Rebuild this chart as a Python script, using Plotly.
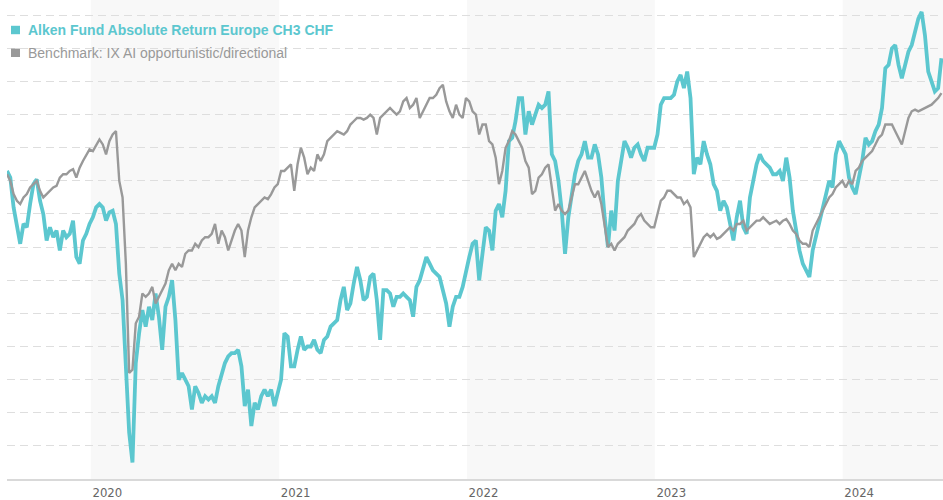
import pandas as pd
import plotly.graph_objects as go

# Values, in gridline units (each dashed gridline = 1 unit, baseline = 0)
fund_2019h2 = [9.3, 9.1, 8.2, 7.6, 7.1, 7.7, 7.6, 8.3, 8.9, 9.05, 8.4, 8.0, 7.2, 7.6, 7.3, 7.5, 6.9, 7.5, 7.3, 7.4,
               7.8, 6.7, 6.5, 7.2, 7.4, 7.7, 7.9, 8.2, 8.3, 8.2, 7.8, 8.05, 8.1, 7.7, 6.2, 5.4, 3.5]
fund_2020 = [1.4, 0.5, 3.5, 4.4, 5.1, 4.6, 5.2, 4.8, 5.6, 4.9, 3.9, 5.2, 5.5, 6.0, 4.8, 3.0, 3.2, 3.0, 2.8, 2.1,
             2.8, 2.6, 2.3, 2.5, 2.4, 2.5, 2.3, 2.8, 3.2, 3.5, 3.7, 3.8, 3.8, 3.9, 3.4, 2.2, 2.7, 1.6, 2.3, 2.1, 2.5]
fund_2021a = [2.7, 2.5, 2.7, 2.2, 2.6, 3.0, 4.4, 4.3, 3.4, 3.4, 3.9, 4.3, 3.9, 4.0, 4.0, 4.2, 3.9, 3.8, 4.2, 4.3,
              4.6, 4.7, 4.8, 5.4, 5.8, 5.1, 5.3, 5.9, 6.4, 6.0, 5.4, 5.5, 6.1, 6.2, 5.4, 4.2, 5.7, 5.7, 5.6, 5.2, 5.5]
fund_2021b = [5.5, 5.6, 5.5, 5.4, 4.9, 5.8, 6.0, 6.4, 6.7, 6.5, 6.3, 6.2, 6.1, 5.7, 5.3, 4.6, 5.2, 5.5, 5.5, 5.8,
              6.3, 6.7, 7.1, 7.2, 6.0, 6.8, 7.6, 7.5, 6.9, 8.1, 8.3, 7.9, 8.7, 10.2, 10.3, 10.8, 11.5, 11.5, 10.4, 11.1, 10.7]
fund_2022 = [11.0, 11.3, 11.2, 11.3, 11.7, 9.8, 9.6, 9.0, 8.1, 6.8, 7.9, 8.5, 9.2, 9.6, 9.8, 10.2, 9.7, 9.7, 10.1, 9.8,
             9.1, 7.9, 7.0, 8.1, 7.5, 9.0, 9.6, 10.2, 10.0, 9.7, 10.0, 10.1, 9.8, 9.6, 10.0, 10.0, 10.0, 10.4, 11.3, 11.5, 11.5]
fund_2023 = [11.5, 11.6, 12.0, 12.2, 11.8, 12.3, 11.5, 9.2, 9.7, 9.5, 10.2, 9.8, 9.5, 8.9, 8.7, 8.1, 8.4, 8.2, 7.7, 7.2,
             7.9, 8.4, 7.6, 7.4, 8.5, 9.0, 9.5, 9.8, 9.6, 9.5, 9.4, 9.2, 9.2, 9.3, 9.0, 9.7, 9.1, 8.1, 7.4, 6.9, 6.5]
fund_2024 = [6.3, 6.1, 6.9, 7.3, 7.8, 8.1, 8.5, 9.0, 8.8, 9.8, 10.2, 10.0, 9.8, 9.1, 8.8, 8.6, 9.1, 9.6, 10.3, 10.1,
             10.2, 10.5, 10.7, 11.2, 12.4, 12.5, 13.0, 13.1, 12.5, 12.1, 12.5, 12.9, 13.1, 13.5, 13.9, 14.1, 13.4, 12.3,
             12.0, 11.7, 11.8, 12.7]

bench_2019h2 = [9.2, 9.0, 8.6, 8.4, 8.3, 8.5, 8.6, 8.8, 8.9, 9.0, 8.7, 8.5, 8.6, 8.7, 8.8, 8.85, 9.1, 9.2, 9.2, 9.3,
                9.35, 9.1, 9.4, 9.6, 9.8, 9.95, 9.9, 10.1, 10.25, 10.1, 9.8, 10.2, 10.4, 10.5, 9.0, 8.5, 6.5]
bench_2020 = [3.2, 3.3, 4.7, 4.9, 5.6, 5.5, 5.6, 5.8, 5.3, 5.5, 5.7, 5.9, 6.3, 6.5, 6.3, 6.5, 6.4, 6.8, 6.9, 6.9,
              7.1, 7.0, 7.2, 7.3, 7.3, 7.4, 7.7, 7.1, 7.5, 7.3, 6.9, 7.2, 7.5, 7.7, 7.5, 6.7, 7.5, 7.9, 8.2, 8.3, 8.4]
bench_2021a = [8.5, 8.45, 8.6, 8.8, 8.9, 9.3, 9.3, 9.4, 9.5, 8.7, 9.5, 10.0, 9.7, 9.2, 9.4, 9.3, 9.8, 9.6, 9.8, 10.2,
               10.3, 10.4, 10.5, 10.45, 10.4, 10.5, 10.7, 10.8, 10.9, 10.9, 10.85, 10.9, 11.0, 10.9, 10.4, 10.9, 11.0,
               11.1, 11.2, 11.1, 11.0]
bench_2021b = [11.1, 11.4, 11.5, 11.2, 11.3, 11.5, 10.9, 11.1, 11.3, 11.5, 11.5, 11.6, 11.8, 11.9, 11.4, 11.1, 10.9,
               11.3, 11.0, 10.9, 11.5, 11.4, 11.1, 11.0, 10.4, 10.7, 10.7, 10.2, 10.1, 9.7, 8.9, 9.3, 10.0, 10.2, 10.5,
               10.4, 10.2, 10.0, 9.6, 9.4, 8.6]
bench_2022 = [8.7, 9.1, 9.2, 9.4, 9.5, 8.8, 8.1, 8.3, 8.1, 8.0, 8.1, 8.5, 8.9, 8.9, 9.1, 9.3, 9.0, 8.7, 8.5, 8.7,
              8.3, 7.7, 7.0, 7.1, 6.9, 7.1, 7.2, 7.3, 7.5, 7.6, 7.7, 7.9, 8.0, 7.8, 7.7, 7.6, 7.6, 8.0, 8.4, 8.5, 8.7]
bench_2023 = [8.7, 8.6, 8.5, 8.5, 8.3, 8.4, 8.2, 6.7, 6.9, 7.1, 7.3, 7.4, 7.3, 7.4, 7.25, 7.3, 7.4, 7.5, 7.6, 7.5,
              7.7, 7.7, 7.8, 7.5, 7.6, 7.7, 7.8, 7.8, 7.9, 7.8, 7.7, 7.75, 7.8, 7.7, 7.8, 7.85, 7.7, 7.5, 7.4, 7.2, 7.1]
bench_2024 = [7.1, 7.0, 7.5, 7.7, 7.9, 8.1, 8.3, 8.5, 8.6, 8.8, 8.9, 9.0, 8.8, 9.0, 8.9, 9.3, 9.4, 9.6, 9.7, 9.8,
              9.9, 10.1, 10.3, 10.4, 10.7, 10.7, 10.7, 10.5, 10.3, 10.1, 10.5, 10.9, 11.1, 11.15, 11.1, 11.15, 11.2,
              11.25, 11.3, 11.4, 11.5, 11.65]

year_labels = ["2020", "2021", "2022", "2023", "2024"]
shaded_years = [2020, 2022, 2024]

series_start = "2019-07-22"
series_end = "2024-07-11"

fund_name = "Alken Fund Absolute Return Europe CH3 CHF"
bench_name = "Benchmark: IX AI opportunistic/directional"

TEAL = "#5cc7cf"
GREY = "#999999"

fund = fund_2019h2 + fund_2020 + fund_2021a + fund_2021b + fund_2022 + fund_2023 + fund_2024
bench = bench_2019h2 + bench_2020 + bench_2021a + bench_2021b + bench_2022 + bench_2023 + bench_2024
fund_dates = pd.date_range(series_start, series_end, periods=len(fund))
bench_dates = pd.date_range(series_start, series_end, periods=len(bench))

fig = go.Figure()
fig.add_trace(go.Scatter(x=fund_dates, y=fund, mode="lines", name=fund_name,
                         line=dict(color=TEAL, width=3.8), showlegend=False))
fig.add_trace(go.Scatter(x=bench_dates, y=bench, mode="lines", name=bench_name,
                         line=dict(color=GREY, width=2.4), showlegend=False))

for y in shaded_years:
    fig.add_shape(type="rect", xref="x", yref="paper", x0=f"{y}-01-01", x1=f"{y+1}-01-01",
                  y0=0, y1=1, fillcolor="#f8f8f8", line=dict(width=0), layer="below")

# legend (drawn as header text)
W, H = 936, 483
def px_x(p):
    return (p - 7) / W
def px_y(p):
    return (H - p) / H

for (col, top, txt, bold) in [(TEAL, 26, fund_name, True), (GREY, 49, bench_name, False)]:
    fig.add_shape(type="rect", xref="paper", yref="paper", x0=px_x(11), x1=px_x(20),
                  y0=px_y(top + 8.5), y1=px_y(top), fillcolor=col, line=dict(width=0))
    fig.add_annotation(xref="paper", yref="paper", x=px_x(26), y=px_y(top + 4.5),
                       xanchor="left", yanchor="middle", showarrow=False,
                       text=f"<b>{txt}</b>" if bold else txt,
                       font=dict(family="Liberation Sans, Arial, sans-serif", size=14, color=col))

fig.update_xaxes(type="date", range=["2019-07-22", "2024-07-14"], showgrid=False,
                 tickvals=[f"{y}-02-02" for y in year_labels], ticktext=year_labels, ticks="",
                 tickfont=dict(family="DejaVu Sans Condensed, DejaVu Sans", size=13, color="#666666"),
                 showline=True, linecolor="#d9d9d9", linewidth=2, zeroline=False)
fig.update_yaxes(range=[0, 14.46], tick0=0, dtick=1, showticklabels=False, showgrid=True,
                 gridcolor="#dedede", gridwidth=1, griddash="8px,5px", zeroline=False)

fig.update_layout(width=943, height=500, margin=dict(l=7, r=0, t=0, b=17),
                  paper_bgcolor="white", plot_bgcolor="white", showlegend=False,
                  hovermode="x unified")

fig.write_html("out.html", config={"displayModeBar": False},
               post_script="document.body.style.margin='0';document.body.style.overflow='hidden';")
